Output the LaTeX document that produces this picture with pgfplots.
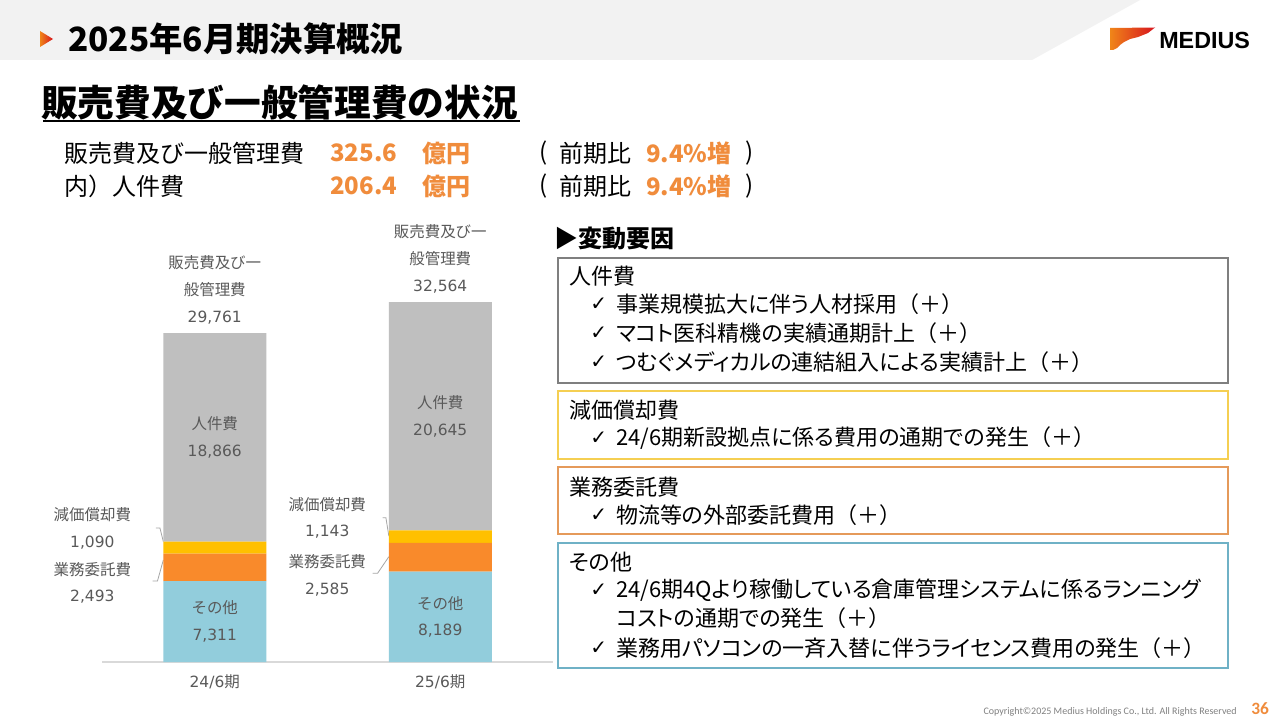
\documentclass[border=0pt]{standalone}
\usepackage{fontspec}
\usepackage{pgfplots}
\pgfplotsset{compat=1.18}
\setmainfont{Noto Sans CJK JP}
\newfontfamily\jpp{Noto Sans CJK JP}[RawFeature=+palt]
\newfontfamily\djv{DejaVu Sans}
\newfontfamily\lib{Liberation Sans}
\newfontfamily\carl{Carlito}
\newcommand\fs[2]{\fontsize{#1}{#2}\selectfont}
\newcommand\pl{{\rmfamily （＋）}}
\newcommand\n[1]{{\djv #1}}

\definecolor{bandgray}{HTML}{F2F2F2}
\definecolor{labgray}{HTML}{595959}
\definecolor{axgray}{HTML}{D9D9D9}
\definecolor{leadgray}{HTML}{A6A6A6}
\definecolor{numorange}{HTML}{F08C3C}
\definecolor{cother}{HTML}{92CDDC}
\definecolor{ccons}{HTML}{F98A2B}
\definecolor{cdep}{HTML}{FFC000}
\definecolor{cpers}{HTML}{BFBFBF}
\definecolor{bgrayb}{HTML}{7F7F7F}
\definecolor{byel}{HTML}{F5CF52}
\definecolor{bora}{HTML}{E59A5A}
\definecolor{bblue}{HTML}{6FB1C6}
\definecolor{logoor}{HTML}{F08519}
\definecolor{logored}{HTML}{D7141E}

% SG&A breakdown, million yen
\pgfplotstableread{
x other cons dep pers
0 7311 2493 1090 18866
1 8189 2585 1143 20645
}\costs

\begin{document}
\begin{tikzpicture}[x=0.75pt,y=-0.75pt,
  t/.style={anchor=west,inner sep=0pt},
  lab/.style={font=\fs{11.6pt}{20pt},text=labgray,align=center,inner sep=0pt},
  bt/.style={anchor=west,inner sep=0pt,font=\jpp\fs{16.5pt}{20pt}},
  ck/.style={anchor=west,inner sep=0pt,font=\djv\fs{15pt}{18pt}},
  leader/.style={draw=leadgray,line width=0.6pt}]
\useasboundingbox (0,0) rectangle (1280,720);
\fill[white] (0,0) rectangle (1280,720);

% header band
\fill[bandgray] (0,0) -- (1140,0) -- (1032,60) -- (0,60) -- cycle;
\shade[left color=logoor,right color=logored] (40,31) -- (53,39) -- (40,47) -- cycle;
\node[t,font=\fs{25pt}{30pt}\bfseries] at (68,39) {2025年6月期決算概況};

% logo
\shade[left color=logoor,right color=logored] (1110,28) -- (1155,27.5) -- (1148,33) -- (1138,37)
  -- (1130,39) -- (1124,42) -- (1120,45) -- (1117,48) -- (1113,50) -- (1110,50) -- cycle;
\node[t,font=\lib\bfseries\fs{17.5pt}{20pt}] at (1159,40) {MEDIUS};

% heading
\node[t,font=\fs{27.5pt}{33pt}\bfseries] at (41,102) {販売費及び一般管理費の状況};
\draw[line width=1.5pt] (43,121) -- (520,121);

% summary lines
\node[t,font=\fs{18pt}{22pt}] at (64,153) {販売費及び一般管理費};
\node[t,font=\fs{18pt}{22pt}\bfseries,text=numorange] at (330,153) {325.6};
\node[t,font=\fs{18pt}{22pt}\bfseries,text=numorange] at (422,153) {億円};
\node[t,font=\fs{18pt}{22pt}] at (539,153) {(};
\node[t,font=\fs{18pt}{22pt}] at (559,153) {前期比};
\node[t,font=\fs{18pt}{22pt}\bfseries,text=numorange] at (646,153) {9.4\%増};
\node[t,font=\fs{18pt}{22pt}] at (745,153) {)};

\node[t,font=\fs{18pt}{22pt}] at (64,186) {内）人件費};
\node[t,font=\fs{18pt}{22pt}\bfseries,text=numorange] at (330,186) {206.4};
\node[t,font=\fs{18pt}{22pt}\bfseries,text=numorange] at (422,186) {億円};
\node[t,font=\fs{18pt}{22pt}] at (539,186) {(};
\node[t,font=\fs{18pt}{22pt}] at (559,186) {前期比};
\node[t,font=\fs{18pt}{22pt}\bfseries,text=numorange] at (646,186) {9.4\%増};
\node[t,font=\fs{18pt}{22pt}] at (745,186) {)};

% chart: axis line at x 102..553 px, y 662 px
\begin{axis}[at={(76.5pt,-496.5pt)},anchor=south west,scale only axis,
  width=338.25pt,height=298.35pt,
  xmin=-0.5,xmax=1.5,ymin=0,ymax=36000,
  ybar stacked,bar width=77.25pt,
  axis x line*=bottom,axis y line=none,
  x axis line style={draw=axgray,line width=1pt,-},
  xtick={0,1},xticklabels={\n{24/6}期,\n{25/6}期},
  major tick length=0pt,ytick=\empty,
  xticklabel style={font=\fs{11.6pt}{14pt},text=labgray,yshift=-6pt},
  clip=false]
\addplot[fill=cother,draw=none] table[x=x,y=other]{\costs};
\addplot[fill=ccons,draw=none] table[x=x,y=cons]{\costs};
\addplot[fill=cdep,draw=none] table[x=x,y=dep]{\costs};
\addplot[fill=cpers,draw=none] table[x=x,y=pers]{\costs};

\coordinate (o1) at (axis cs:0,3655);
\coordinate (o2) at (axis cs:1,4094);
\coordinate (p1) at (axis cs:0,20327);
\coordinate (p2) at (axis cs:1,22239);
\coordinate (s1) at (axis cs:0,29761);
\coordinate (s2) at (axis cs:1,32564);
\coordinate (d1) at (axis cs:-0.543,12081);
\coordinate (c1) at (axis cs:-0.543,7149);
\coordinate (d2) at (axis cs:0.499,13032);
\coordinate (c2) at (axis cs:0.499,7828);

\draw[leader] (axis cs:-0.261,12127) -- (axis cs:-0.243,12127) -- (axis cs:-0.228,10887);
\draw[leader] (axis cs:-0.276,7330) -- (axis cs:-0.254,7330) -- (axis cs:-0.228,9231);
\draw[leader] (axis cs:0.744,13059) -- (axis cs:0.759,13059) -- (axis cs:0.772,11403);
\draw[leader] (axis cs:0.700,8027) -- (axis cs:0.722,8027) -- (axis cs:0.772,9529);
\end{axis}

% data labels, drawn on top of the stacked bars
\node[lab] at (o1) {その他\\\n{7,311}};
\node[lab] at (o2) {その他\\\n{8,189}};
\node[lab] at (p1) {人件費\\\n{18,866}};
\node[lab] at (p2) {人件費\\\n{20,645}};
\node[lab,yshift=32.5pt] at (s1) {販売費及び一\\般管理費\\\n{29,761}};
\node[lab,yshift=32.5pt] at (s2) {販売費及び一\\般管理費\\\n{32,564}};
\node[lab] at (d1) {減価償却費\\\n{1,090}};
\node[lab] at (c1) {業務委託費\\\n{2,493}};
\node[lab] at (d2) {減価償却費\\\n{1,143}};
\node[lab] at (c2) {業務委託費\\\n{2,585}};

% factors
\node[t,font=\fs{18pt}{22pt}\bfseries] at (554,238) {▶変動要因};

\draw[bgrayb,line width=1pt] (558,258) rectangle (1228,383);
\node[bt] at (569,276) {人件費};
\node[ck] at (590,304) {✓};
\node[bt] at (616,304) {事業規模拡大に伴う人材採用\pl};
\node[ck] at (590,333) {✓};
\node[bt] at (616,333) {マコト医科精機の実績通期計上\pl};
\node[ck] at (590,362) {✓};
\node[bt] at (616,362) {つむぐメディカルの連結組入による実績計上\pl};

\draw[byel,line width=1pt] (558,391) rectangle (1228,459);
\node[bt] at (569,410) {減価償却費};
\node[ck] at (590,438) {✓};
\node[bt] at (616,438) {24/6期新設拠点に係る費用の通期での発生\pl};

\draw[bora,line width=1pt] (558,467) rectangle (1228,534);
\node[bt] at (569,487) {業務委託費};
\node[ck] at (590,515) {✓};
\node[bt] at (616,515) {物流等の外部委託費用\pl};

\draw[bblue,line width=1pt] (558,543) rectangle (1228,668);
\node[bt] at (569,562) {その他};
\node[ck] at (590,590) {✓};
\node[bt] at (616,590) {24/6期4Qより稼働している倉庫管理システムに係るランニング};
\node[bt] at (616,618) {コストの通期での発生\pl};
\node[ck] at (590,648) {✓};
\node[bt] at (616,648) {業務用パソコンの一斉入替に伴うライセンス費用の発生\pl};

% footer
\node[anchor=east,inner sep=0pt,font=\carl\fs{7.5pt}{9pt},text=gray] at (1237,712) {Copyright©2025 Medius Holdings Co., Ltd. All Rights Reserved};
\node[t,font=\carl\bfseries\fs{13pt}{15pt},text=numorange] at (1251,709) {36};
\end{tikzpicture}
\end{document}
